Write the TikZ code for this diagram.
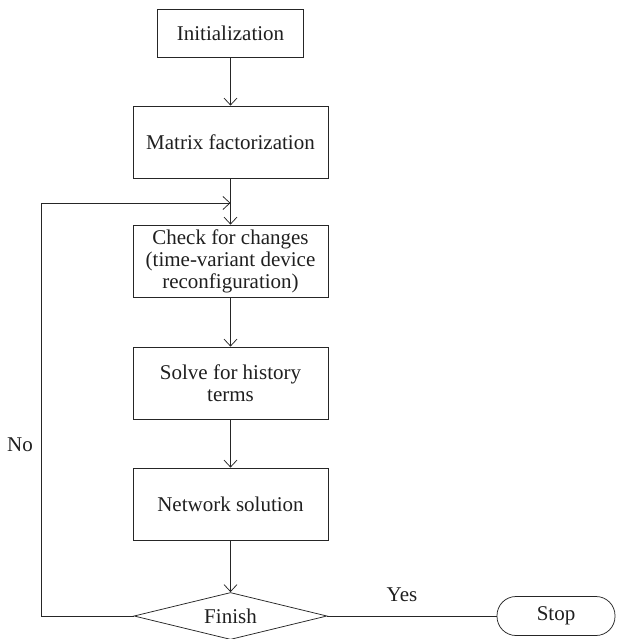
\documentclass[tikz,border=0pt]{standalone}
\usepackage{fontspec}
\setmainfont{Liberation Serif}
\usetikzlibrary{arrows.meta,shapes.geometric}
\begin{document}
\begin{tikzpicture}[x=1pt,y=-1pt,
  line width=0.75pt,
  every node/.style={text=black!88},
  txt/.style={font=\fontsize{21}{22}\selectfont},
  box/.style={draw=black!85, rectangle, inner sep=0pt, minimum width=195pt, minimum height=72pt, align=center, txt},
  dec/.style={draw=black!85, diamond, inner sep=0pt, shape aspect=4, minimum width=193pt, minimum height=47pt, txt},
  term/.style={draw=black!85, rectangle, rounded corners=19pt, minimum width=118pt, minimum height=39pt, inner sep=0pt, txt},
  arr/.style={draw=black!85, -{Straight Barb[length=7pt,width=13pt]}},
  conn/.style={draw=black!85}]
\useasboundingbox (0,0) rectangle (616,639);
\node[box, minimum width=146pt, minimum height=48pt] (init) at (230.5,33) {Initialization};
\node[box] (mat) at (230.5,142) {Matrix factorization};
\node[box] (chk) at (230.5,261) {Check for changes\\(time-variant device\\reconfiguration)};
\node[box] (sol) at (230.5,383) {Solve for history\\terms};
\node[box] (net) at (230.5,504) {Network solution};
\node[dec] (fin) at (230.5,616) {Finish};
\node[term] (stop) at (556,616) {Stop};
\node[txt] (yes) at (402,595) {Yes};
\node[txt] (no) at (20,445) {No};
\coordinate (c1) at (41,616);
\coordinate (c2) at (41,203);
\coordinate (j) at (230.5,203);
\draw[arr] (init) -- (mat);
\draw[arr] (mat) -- (chk);
\draw[arr] (chk) -- (sol);
\draw[arr] (sol) -- (net);
\draw[arr] (net) -- (fin);
\draw[conn] (fin) -- (stop);
\draw[arr] (fin.west) -- (c1) -- (c2) -- (j);
\end{tikzpicture}
\end{document}
